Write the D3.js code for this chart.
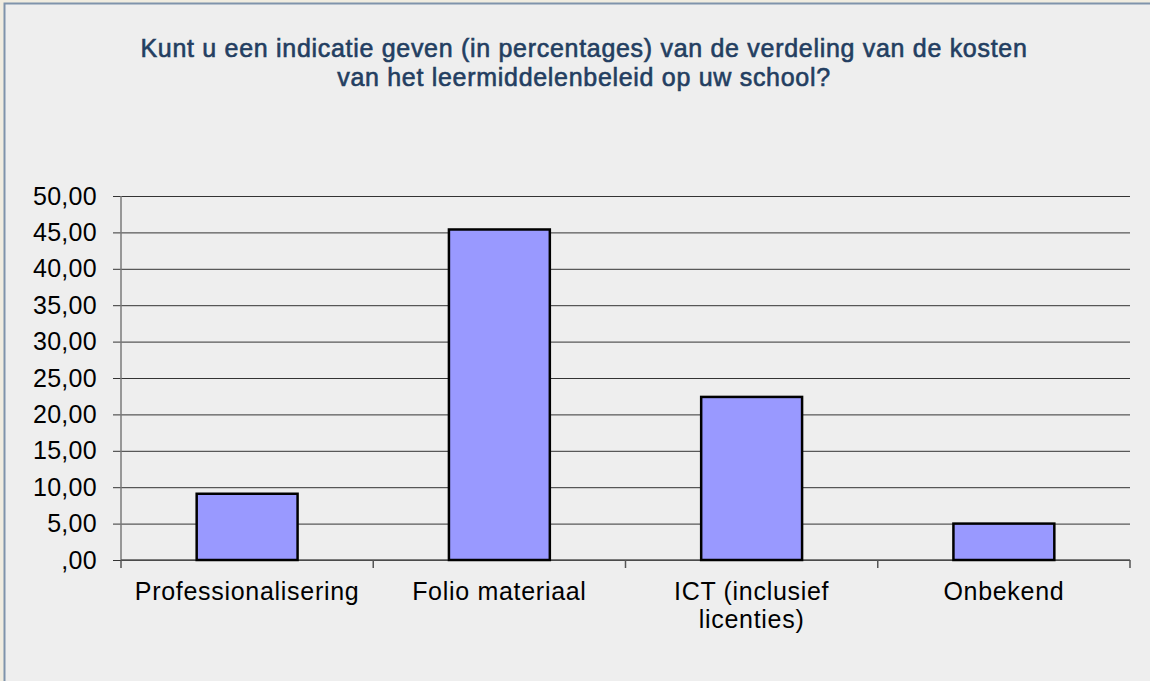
<!DOCTYPE html>
<html>
<head>
<meta charset="utf-8">
<script src="https://cdn.jsdelivr.net/npm/d3@7"></script>
<style>
  body { margin: 0; background: #f0ece0; }
  svg { display: block; font-family: "Liberation Sans", Arial, sans-serif; }
</style>
</head>
<body>
<div id="chart"></div>
<script>
// Chart data
const categories = ["Professionalisering", "Folio materiaal", "ICT (inclusief licenties)", "Onbekend"];
const categoryLines = [["Professionalisering"], ["Folio materiaal"], ["ICT (inclusief", "licenties)"], ["Onbekend"]];
const values = [9.1, 45.4, 22.4, 5.0];
const tickValues = [0, 5, 10, 15, 20, 25, 30, 35, 40, 45, 50];
const tickLabels = [",00", "5,00", "10,00", "15,00", "20,00", "25,00", "30,00", "35,00", "40,00", "45,00", "50,00"];
const titleLines = [
  "Kunt u een indicatie geven (in percentages) van de verdeling van de kosten",
  "van het leermiddelenbeleid op uw school?"
];

const width = 1150;
const height = 681;
const plot = { left: 121, right: 1130, top: 196, bottom: 560 };

const svg = d3.select("#chart")
  .append("svg")
  .attr("width", width)
  .attr("height", height);

// panel background with border
svg.append("rect")
  .attr("x", 4.5)
  .attr("y", 3.5)
  .attr("width", width + 10)
  .attr("height", height + 10)
  .attr("fill", "#eeeeee")
  .attr("stroke", "#7f93ab")
  .attr("stroke-width", 2);

// title
const title = svg.append("text")
  .attr("text-anchor", "middle")
  .attr("fill", "#233e61")
  .style("font-size", "25px")
  .style("letter-spacing", "0.7px")
  .style("paint-order", "stroke")
  .attr("stroke", "#233e61")
  .attr("stroke-width", 0.6);
titleLines.forEach((t, i) => {
  title.append("tspan")
    .attr("x", 584)
    .attr("y", 57 + i * 29)
    .text(t);
});

// scales
const x = d3.scaleBand()
  .domain(categories)
  .range([plot.left, plot.right])
  .paddingInner(0.6)
  .paddingOuter(0.3);

const xEdge = d3.scaleLinear()
  .domain([0, categories.length])
  .range([plot.left, plot.right]);

const y = d3.scaleLinear()
  .domain([0, 50])
  .range([plot.bottom, plot.top]);

// y axis with gridlines
const yAxis = svg.append("g")
  .attr("transform", `translate(${plot.left},0)`)
  .call(d3.axisLeft(y)
    .tickValues(tickValues)
    .tickSize(8)
    .tickFormat((d, i) => tickLabels[i]));
yAxis.select(".domain").remove();
yAxis.selectAll(".tick line")
  .attr("x2", plot.right - plot.left)
  .attr("x1", -8)
  .attr("stroke", "#333333")
  .attr("stroke-width", 1);
yAxis.selectAll(".tick text")
  .attr("x", -24)
  .attr("fill", "#000")
  .style("font-family", "'Liberation Sans', Arial, sans-serif")
  .style("font-size", "25px")
  .style("letter-spacing", "0.3px");

// y axis line
svg.append("line")
  .attr("x1", plot.left).attr("x2", plot.left)
  .attr("y1", y(50)).attr("y2", y(0))
  .attr("stroke", "#7a7a7a")
  .attr("stroke-width", 1.5);

// bottom axis line and category ticks
svg.append("line")
  .attr("x1", plot.left).attr("x2", plot.right)
  .attr("y1", y(0)).attr("y2", y(0))
  .attr("stroke", "#555555")
  .attr("stroke-width", 1.5);
svg.append("g")
  .selectAll("line")
  .data(d3.range(categories.length + 1))
  .join("line")
  .attr("x1", d => xEdge(d))
  .attr("x2", d => xEdge(d))
  .attr("y1", y(0))
  .attr("y2", y(0) + 8)
  .attr("stroke", "#555555")
  .attr("stroke-width", 1.5);

// bars
svg.append("g")
  .selectAll("rect")
  .data(values)
  .join("rect")
  .attr("x", (d, i) => x(categories[i]))
  .attr("y", d => y(d))
  .attr("width", x.bandwidth())
  .attr("height", d => y(0) - y(d))
  .attr("fill", "#9999ff")
  .attr("stroke", "#000")
  .attr("stroke-width", 2.5);

// category labels
const labels = svg.append("g")
  .selectAll("text")
  .data(categoryLines)
  .join("text")
  .attr("text-anchor", "middle")
  .attr("fill", "#000")
  .style("font-size", "25px")
  .style("letter-spacing", "0.7px");
labels.each(function (lines, i) {
  const cx = x(categories[i]) + x.bandwidth() / 2;
  d3.select(this).selectAll("tspan")
    .data(lines)
    .join("tspan")
    .attr("x", cx)
    .attr("y", (d, j) => 600 + j * 28)
    .text(d => d);
});
</script>
</body>
</html>
